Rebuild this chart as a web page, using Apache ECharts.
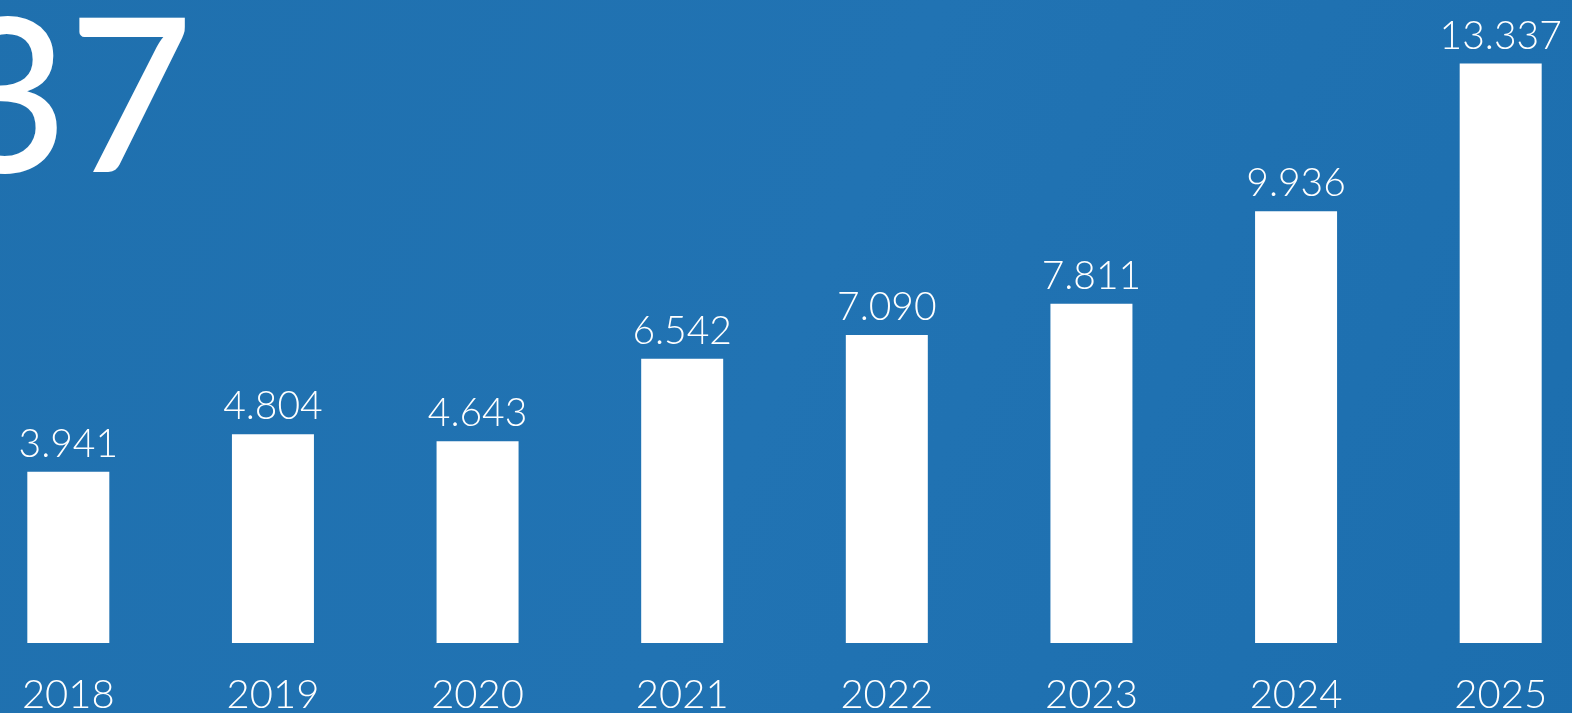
<!DOCTYPE html>
<html>
<head>
<meta charset="utf-8">
<script src="https://cdn.jsdelivr.net/npm/echarts@6/dist/echarts.min.js"></script>
<style>
  html, body { margin: 0; padding: 0; background: #1e71b1; overflow: hidden; }
  /* chart is a bit wider than the window: the outer bars sit half off the edges */
  #main { width: 1637px; height: 713px; margin-left: -34px; }
</style>
</head>
<body>
<div id="main"></div>
<script>
// years and values
var years = ['2018', '2019', '2020', '2021', '2022', '2023', '2024', '2025'];
var values = [3.941, 4.804, 4.643, 6.542, 7.090, 7.811, 9.936, 13.337];

var chart = echarts.init(document.getElementById('main'));

var option = {
  backgroundColor: {
    type: 'linear', x: 0, y: 0, x2: 1, y2: 1,
    colorStops: [
      { offset: 0, color: '#1f70ae' },
      { offset: 0.5, color: '#2173b3' },
      { offset: 1, color: '#1c6eae' }
    ]
  },
  textStyle: { fontFamily: 'Lato' },
  graphic: [
    {
      type: 'text',
      right: 1637 - 227,
      top: -5,
      style: {
        text: values[values.length - 1].toFixed(3),
        fill: '#ffffff',
        font: '500 215px Lato'
      }
    }
  ],
  grid: { left: 0, right: 0, top: 0, bottom: 70, outerBoundsMode: 'none', containLabel: false },
  xAxis: {
    type: 'category',
    data: years,
    axisLine: { show: false },
    axisTick: { show: false },
    axisLabel: {
      color: '#ffffff',
      fontSize: 40,
      fontWeight: 300,
      fontFamily: 'Lato',
      margin: 32
    }
  },
  yAxis: {
    type: 'value',
    min: 0,
    max: 14.8,
    show: false
  },
  series: [
    {
      type: 'bar',
      data: values,
      barWidth: 82,
      itemStyle: { color: '#ffffff' },
      label: {
        show: true,
        position: 'top',
        distance: 8,
        color: '#ffffff',
        fontSize: 39,
        fontWeight: 300,
        fontFamily: 'Lato',
        formatter: function (p) { return p.value.toFixed(3); }
      }
    }
  ]
};

chart.setOption(option);
</script>
</body>
</html>
